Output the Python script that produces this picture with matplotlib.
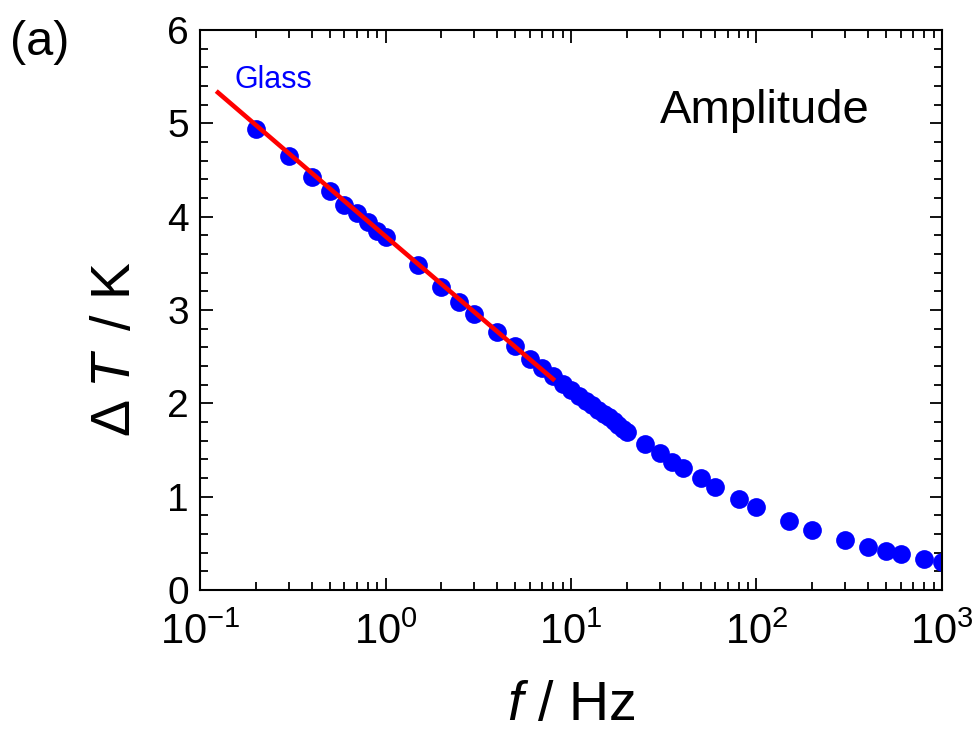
import numpy as np
import matplotlib
matplotlib.use("Agg")
import matplotlib.pyplot as plt
from matplotlib.ticker import LogLocator, NullFormatter, MultipleLocator, LogFormatterMathtext

# frequency (Hz) and temperature amplitude (K)
freq = [0.2, 0.3, 0.4, 0.5, 0.6, 0.7, 0.8, 0.9, 1.0, 1.5, 2, 2.5, 3, 4, 5, 6, 7, 8,
        9, 10, 11, 12, 13, 14, 15, 16, 17, 18, 19, 20, 25, 30, 35, 40, 50, 60, 80,
        100, 150, 200, 300, 400, 500, 600, 800, 1000]
dT = [4.94, 4.65, 4.43, 4.28, 4.13, 4.04, 3.94, 3.85, 3.78, 3.48, 3.25, 3.09, 2.96,
      2.76, 2.61, 2.48, 2.38, 2.29, 2.21, 2.14, 2.08, 2.03, 1.98, 1.93, 1.89, 1.85,
      1.81, 1.77, 1.73, 1.69, 1.565, 1.465, 1.375, 1.31, 1.197, 1.10, 0.98, 0.89,
      0.74, 0.643, 0.536, 0.464, 0.418, 0.386, 0.332, 0.304]

# fitted line (red)
fit_f = [0.125, 1.0, 8.0]
fit_dT = [5.33, 3.79, 2.26]

plt.rcParams['font.family'] = ['Liberation Sans', 'DejaVu Sans']
plt.rcParams['mathtext.fontset'] = 'custom'
plt.rcParams['mathtext.rm'] = 'Liberation Sans'
plt.rcParams['mathtext.it'] = 'Liberation Sans:italic'

fig = plt.figure(figsize=(9.79, 7.38), dpi=100)
ax = fig.add_axes([0.2043, 0.2005, 0.7579, 0.7588])

ax.plot(freq, dT, 'o', color='#0000ff', markersize=13.5, markeredgewidth=0, zorder=2)
ax.plot(fit_f, fit_dT, '-', color='#ff0000', linewidth=3.3, zorder=3)

ax.set_xscale('log')
ax.set_xlim(0.1, 1000)
ax.set_ylim(0, 6)

ax.xaxis.set_major_locator(LogLocator(base=10, numticks=10))
ax.xaxis.set_minor_locator(LogLocator(base=10, subs=np.arange(2, 10), numticks=20))
ax.xaxis.set_minor_formatter(NullFormatter())
ax.xaxis.set_major_formatter(LogFormatterMathtext())
ax.yaxis.set_major_locator(MultipleLocator(1))
ax.yaxis.set_minor_locator(MultipleLocator(0.2))

ax.tick_params(which='both', direction='in', top=True, right=True, width=1.3)
ax.tick_params(which='major', length=9)
ax.tick_params(which='minor', length=5.5)
ax.tick_params(axis='x', which='major', pad=16, labelsize=30)
ax.tick_params(axis='y', which='major', pad=8, labelsize=28)
for sp in ax.spines.values():
    sp.set_linewidth(1.5)

ax.set_xlabel(r'$\mathit{f}$ / Hz', fontsize=40, labelpad=20)
ax.set_ylabel(r'$\Delta\;\mathit{T}\,$ / K', fontsize=40)
ax.yaxis.set_label_coords(-0.078, 0.43)

ax.text(0.903, 0.855, 'Amplitude', transform=ax.transAxes, ha='right', va='center',
        fontsize=34, color='black')
ax.text(0.047, 0.91, 'Glass', transform=ax.transAxes, ha='left', va='center',
        fontsize=22, color='#0000ff')
fig.text(0.01, 0.943, '(a)', fontsize=35, ha='left', va='center')

fig.savefig('out.png', dpi=100)
